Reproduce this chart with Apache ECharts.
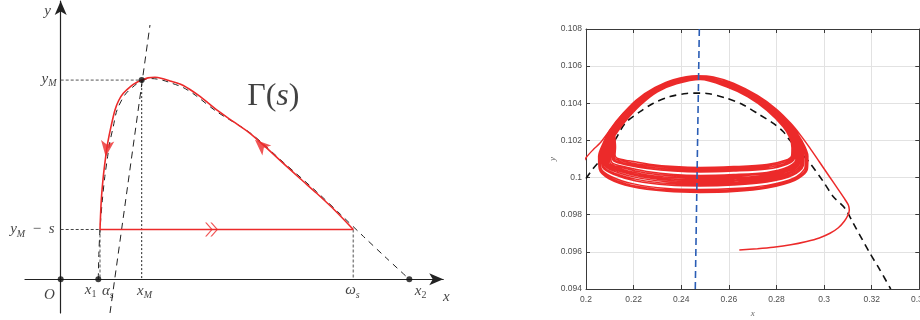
<!DOCTYPE html>
<html><head><meta charset="utf-8">
<script src="https://cdn.jsdelivr.net/npm/echarts@6/dist/echarts.min.js"></script>
<style>html,body{margin:0;padding:0;background:#fff}#c{width:920px;height:320px}</style>
</head><body><div id="c"></div>
<script>
// ---------- LEFT PANEL (schematic, abstract data units) ----------
const gammaArc = [[8.36,1.0],[7.837,1.382],[7.314,1.727],[6.837,2.024],[6.36,2.329],[5.866,2.647],[5.409,2.932],[4.923,3.169],[4.457,3.40],[4.209,3.54],[3.98,3.671],[3.694,3.811],[3.503,3.892],[3.323,3.942],[3.123,3.982],[2.894,4.032],[2.694,4.056],[2.494,4.044],[2.314,4.0],[2.166,3.952],[2.009,3.881],[1.789,3.735],[1.657,3.59],[1.551,3.4],[1.437,3.064],[1.343,2.737],[1.286,2.462],[1.217,2.06],[1.16,1.59],[1.123,1.0]];
const gammaBase = [[1.123,1.0],[8.36,1.0]];
const preyIsocline = [[1.074,0],[1.09,0.5],[1.123,1.0],[1.19,1.59],[1.26,2.06],[1.34,2.46],[1.40,2.74],[1.50,3.06],[1.61,3.4],[1.83,3.70],[2.06,3.86],[2.314,3.99],[2.6,4.03],[2.9,4.0],[3.2,3.93],[3.5,3.85],[3.84,3.70],[4.45,3.37],[5.41,2.94],[6.36,2.35],[7.31,1.76],[8.0,1.30],[8.65,0.86],[9.3,0.43],[9.96,0]];
const predIsocline = [[1.409,-0.677],[2.551,5.106]];
const guideYM = [[0,4],[2.314,4]];
const guideXM = [[2.314,4],[2.314,0]];
const guideYMs = [[0,1],[1.123,1]];
const guideX1 = [[1.123,1],[1.123,0]];
const guideOmega = [[8.36,1],[8.36,0]];
const keyPoints = [[0,0],[1.074,0],[9.96,0],[2.314,4]];
const flowArrows = [[1.286,2.462,173],[5.55,2.80,48]];
const chevronAt = [[4.31,1.0]];
const mathLabels = [
  ['{v|y}', -0.363, 5.367, 'center'],
  ['{v|y}{s|M}', -0.106, 4.02, 'right'],
  ['{v|y}{s|M}{n|  −  }{v|s}', -0.163, 1.0, 'right'],
  ['{v|x}{d|1}', 0.87, -0.22, 'center'],
  ['{v|α}{s|s}', 1.36, -0.24, 'center'],
  ['{v|x}{s|M}', 2.41, -0.24, 'center'],
  ['{v|ω}{s|s}', 8.35, -0.23, 'center'],
  ['{v|x}{d|2}', 10.3, -0.24, 'center'],
  ['{v|x}', 11.03, -0.36, 'center'],
  ['{v|O}', -0.306, -0.32, 'center'],
  ['{g|Γ(}{gi|s}{g|)}', 6.09, 3.66, 'center']
];

// ---------- RIGHT PANEL (phase plane) ----------
const nullclineRight = [[0.2000,0.09995],[0.2031,0.10050],[0.2073,0.10112],[0.2122,0.10202],[0.2164,0.10292],[0.2227,0.10355],[0.2283,0.10400],[0.2353,0.10436],[0.2423,0.10453],[0.2465,0.10455],[0.2507,0.10453],[0.2591,0.10427],[0.2661,0.10391],[0.2731,0.10337],[0.2787,0.10292],[0.2829,0.10247],[0.2850,0.10211],[0.2895,0.10145],[0.2941,0.10077],[0.2997,0.09978],[0.3039,0.09897],[0.3088,0.09834],[0.3123,0.09753],[0.3193,0.09592],[0.3235,0.09502],[0.3280,0.09400]];
const verticalNullcline = [[0.2476,0.108],[0.2459,0.094]];
const entryLeft = [[0.1985,0.10075],[0.2003,0.10112],[0.2030,0.10150],[0.2059,0.10186],[0.2101,0.10256],[0.2157,0.10347],[0.2227,0.10428]];
const transient = [[0.2644,0.09610],[0.2720,0.09617],[0.2787,0.09625],[0.2860,0.09638],[0.2927,0.09656],[0.2980,0.09675],[0.3025,0.09700],[0.3060,0.09730],[0.3085,0.09765],[0.3100,0.09797],[0.3106,0.09826],[0.3102,0.09852],[0.3088,0.09882],[0.3060,0.09935],[0.3020,0.10010],[0.2980,0.10085],[0.2940,0.10160],[0.2900,0.10230],[0.2860,0.10292],[0.2800,0.10368],[0.2720,0.10442],[0.2619,0.10508],[0.2535,0.10542],[0.2465,0.10548],[0.2367,0.10527],[0.2297,0.10488],[0.2227,0.10429],[0.2157,0.10348],[0.2101,0.10258]];
const loop1 = [[0.2072,0.10185],[0.2053,0.10115],[0.2056,0.10045],[0.2095,0.09995],[0.2190,0.09952],[0.2340,0.09926],[0.2480,0.09920],[0.2620,0.09925],[0.2760,0.09944],[0.2878,0.09985],[0.2930,0.10045],[0.2932,0.10115],[0.2906,0.10200],[0.2860,0.10283],[0.2780,0.10383],[0.2690,0.10459],[0.2590,0.10513],[0.2480,0.10546],[0.2380,0.10529],[0.2290,0.10486],[0.2210,0.10416],[0.2140,0.10321],[0.2100,0.10250]];
const loop2 = [[0.2074,0.10182],[0.2056,0.10112],[0.2059,0.10048],[0.2100,0.10000],[0.2195,0.09958],[0.2340,0.09933],[0.2480,0.09928],[0.2620,0.09933],[0.2760,0.09951],[0.2875,0.09991],[0.2925,0.10050],[0.2927,0.10118],[0.2902,0.10202],[0.2857,0.10283],[0.2778,0.10381],[0.2690,0.10456],[0.2590,0.10510],[0.2480,0.10544],[0.2380,0.10526],[0.2290,0.10483],[0.2210,0.10413],[0.2142,0.10318],[0.2102,0.10248]];
const loop3 = [[0.2076,0.10180],[0.2059,0.10110],[0.2063,0.10050],[0.2105,0.10006],[0.2200,0.09966],[0.2340,0.09941],[0.2480,0.09936],[0.2620,0.09941],[0.2760,0.09958],[0.2872,0.09997],[0.2920,0.10055],[0.2922,0.10120],[0.2898,0.10204],[0.2854,0.10282],[0.2776,0.10379],[0.2690,0.10453],[0.2590,0.10507],[0.2480,0.10542],[0.2380,0.10523],[0.2290,0.10480],[0.2212,0.10410],[0.2144,0.10316],[0.2104,0.10246]];
const loop4 = [[0.2080,0.10178],[0.2065,0.10108],[0.2070,0.10055],[0.2115,0.10018],[0.2210,0.09982],[0.2345,0.09960],[0.2480,0.09955],[0.2620,0.09960],[0.2760,0.09976],[0.2868,0.10012],[0.2913,0.10065],[0.2915,0.10125],[0.2893,0.10206],[0.2851,0.10281],[0.2774,0.10377],[0.2688,0.10451],[0.2590,0.10505],[0.2480,0.10541],[0.2380,0.10521],[0.2292,0.10478],[0.2214,0.10408],[0.2146,0.10314],[0.2106,0.10244]];
const loop5 = [[0.2085,0.10176],[0.2070,0.10106],[0.2075,0.10056],[0.2122,0.10022],[0.2218,0.09989],[0.2350,0.09968],[0.2480,0.09963],[0.2620,0.09968],[0.2760,0.09983],[0.2864,0.10018],[0.2908,0.10068],[0.2910,0.10127],[0.2889,0.10207],[0.2849,0.10280],[0.2772,0.10376],[0.2687,0.10450],[0.2590,0.10504],[0.2480,0.10539],[0.2380,0.10520],[0.2292,0.10477],[0.2215,0.10407],[0.2147,0.10313],[0.2107,0.10243]];
const loop6 = [[0.2088,0.10175],[0.2075,0.10105],[0.2081,0.10060],[0.2130,0.10029],[0.2225,0.09997],[0.2352,0.09976],[0.2480,0.09971],[0.2620,0.09976],[0.2760,0.09991],[0.2861,0.10025],[0.2903,0.10073],[0.2905,0.10130],[0.2885,0.10208],[0.2847,0.10279],[0.2771,0.10374],[0.2686,0.10448],[0.2590,0.10502],[0.2480,0.10538],[0.2380,0.10518],[0.2293,0.10475],[0.2217,0.10405],[0.2149,0.10311],[0.2109,0.10241]];
const loop7 = [[0.2092,0.10174],[0.2080,0.10104],[0.2087,0.10063],[0.2137,0.10035],[0.2232,0.10004],[0.2356,0.09984],[0.2480,0.09979],[0.2620,0.09984],[0.2760,0.09998],[0.2858,0.10032],[0.2898,0.10078],[0.2900,0.10133],[0.2881,0.10209],[0.2844,0.10279],[0.2769,0.10373],[0.2685,0.10446],[0.2590,0.10500],[0.2480,0.10537],[0.2380,0.10516],[0.2294,0.10473],[0.2219,0.10403],[0.2151,0.10309],[0.2111,0.10239]];
const loop8 = [[0.2097,0.10173],[0.2086,0.10103],[0.2093,0.10066],[0.2143,0.10040],[0.2238,0.10010],[0.2360,0.09992],[0.2480,0.09987],[0.2620,0.09992],[0.2760,0.10006],[0.2855,0.10039],[0.2893,0.10082],[0.2895,0.10136],[0.2877,0.10210],[0.2841,0.10278],[0.2767,0.10371],[0.2684,0.10444],[0.2590,0.10498],[0.2480,0.10535],[0.2380,0.10514],[0.2295,0.10471],[0.2221,0.10401],[0.2153,0.10307],[0.2113,0.10237]];
const loop9 = [[0.2101,0.10172],[0.2092,0.10102],[0.2099,0.10069],[0.2150,0.10045],[0.2245,0.10017],[0.2363,0.10000],[0.2480,0.09995],[0.2620,0.10000],[0.2760,0.10013],[0.2852,0.10045],[0.2889,0.10086],[0.2891,0.10139],[0.2874,0.10211],[0.2839,0.10277],[0.2766,0.10369],[0.2683,0.10442],[0.2590,0.10496],[0.2480,0.10534],[0.2380,0.10512],[0.2296,0.10469],[0.2223,0.10399],[0.2155,0.10305],[0.2115,0.10235]];
const loop10 = [[0.2106,0.10171],[0.2098,0.10103],[0.2105,0.10073],[0.2157,0.10051],[0.2250,0.10025],[0.2366,0.10008],[0.2480,0.10003],[0.2620,0.10008],[0.2760,0.10020],[0.2850,0.10051],[0.2885,0.10090],[0.2887,0.10142],[0.2871,0.10212],[0.2836,0.10276],[0.2765,0.10367],[0.2683,0.10440],[0.2590,0.10494],[0.2480,0.10533],[0.2380,0.10510],[0.2297,0.10467],[0.2225,0.10397],[0.2157,0.10303],[0.2117,0.10233]];
const loop11 = [[0.2110,0.10170],[0.2104,0.10105],[0.2111,0.10078],[0.2162,0.10058],[0.2255,0.10033],[0.2368,0.10016],[0.2480,0.10011],[0.2620,0.10016],[0.2760,0.10028],[0.2848,0.10057],[0.2881,0.10094],[0.2883,0.10145],[0.2868,0.10213],[0.2834,0.10276],[0.2764,0.10366],[0.2682,0.10439],[0.2590,0.10493],[0.2480,0.10532],[0.2380,0.10509],[0.2298,0.10466],[0.2226,0.10396],[0.2158,0.10302],[0.2118,0.10232]];
const loop12 = [[0.2115,0.10168],[0.2110,0.10112],[0.2117,0.10088],[0.2166,0.10069],[0.2257,0.10049],[0.2368,0.10035],[0.2480,0.10030],[0.2620,0.10035],[0.2760,0.10046],[0.2845,0.10072],[0.2876,0.10104],[0.2878,0.10150],[0.2865,0.10214],[0.2832,0.10275],[0.2763,0.10365],[0.2682,0.10438],[0.2590,0.10492],[0.2480,0.10531],[0.2380,0.10508],[0.2298,0.10465],[0.2227,0.10395],[0.2159,0.10301],[0.2119,0.10231]];
const loop13 = [[0.2118,0.10167],[0.2114,0.10115],[0.2121,0.10093],[0.2170,0.10076],[0.2259,0.10057],[0.2369,0.10043],[0.2480,0.10038],[0.2620,0.10043],[0.2760,0.10054],[0.2843,0.10079],[0.2872,0.10109],[0.2873,0.10153],[0.2862,0.10214],[0.2830,0.10275],[0.2762,0.10364],[0.2681,0.10437],[0.2590,0.10491],[0.2480,0.10530],[0.2380,0.10507],[0.2299,0.10464],[0.2228,0.10394],[0.2160,0.10300],[0.2120,0.10230]];
const loop14 = [[0.2121,0.10166],[0.2118,0.10118],[0.2126,0.10098],[0.2175,0.10083],[0.2262,0.10065],[0.2370,0.10051],[0.2480,0.10046],[0.2620,0.10051],[0.2760,0.10062],[0.2841,0.10086],[0.2868,0.10114],[0.2869,0.10156],[0.2859,0.10215],[0.2829,0.10274],[0.2761,0.10363],[0.2681,0.10436],[0.2590,0.10490],[0.2480,0.10529],[0.2380,0.10506],[0.2299,0.10463],[0.2229,0.10393],[0.2161,0.10299],[0.2121,0.10229]];
const loop15 = [[0.2124,0.10164],[0.2122,0.10121],[0.2131,0.10104],[0.2180,0.10090],[0.2265,0.10072],[0.2371,0.10059],[0.2480,0.10054],[0.2620,0.10059],[0.2760,0.10070],[0.2838,0.10093],[0.2864,0.10120],[0.2865,0.10160],[0.2856,0.10215],[0.2828,0.10274],[0.2760,0.10362],[0.2680,0.10435],[0.2590,0.10489],[0.2480,0.10528],[0.2380,0.10505],[0.2300,0.10462],[0.2230,0.10392],[0.2162,0.10298],[0.2122,0.10228]];
const xTickRange = [0.2, 0.34, 0.02];
const yTickRange = [0.094, 0.108, 0.002];

// ---------- build ----------
const trajectory = transient.concat(loop1, loop2, loop3, loop4, loop5, loop6, loop7, loop8, loop9, loop10, loop11, loop12, loop13, loop14, loop15);
const serif = 'Liberation Serif';
const ink = '#111';
const red = '#ec2a2a';
const mathRich = {
  v: {fontFamily: serif, fontStyle: 'italic', fontSize: 15, color: ink, lineHeight: 20},
  s: {fontFamily: serif, fontStyle: 'italic', fontSize: 10, color: ink, lineHeight: 13, verticalAlign: 'bottom'},
  d: {fontFamily: serif, fontSize: 10, color: ink, lineHeight: 13, verticalAlign: 'bottom'},
  n: {fontFamily: serif, fontSize: 15, color: ink, lineHeight: 20},
  g: {fontFamily: serif, fontSize: 32, color: ink, lineHeight: 36},
  gi: {fontFamily: serif, fontStyle: 'italic', fontSize: 32, color: ink, lineHeight: 36}
};
function seg(data, color, width, type, z) {
  return {type: 'line', xAxisIndex: 0, yAxisIndex: 0, data: data, showSymbol: false, symbol: 'none', silent: true, z: z || 2,
    lineStyle: {color: color, width: width, type: type}};
}
const hiddenAxis = {show: true, axisTick: {show: false}, axisLabel: {show: false}, splitLine: {show: false}};
const frameColor = '#3a3a3a';

const option = {
  animation: false,
  backgroundColor: '#fff',
  grid: [
    {left: 25, top: 1, width: 418.25, height: 312, outerBoundsMode: 'none', containLabel: false},
    {left: 586, top: 29, width: 333.3, height: 260, outerBoundsMode: 'none', containLabel: false}
  ],
  xAxis: [
    Object.assign({}, hiddenAxis, {gridIndex: 0, type: 'value', min: -1.02, max: 10.93,
      axisLine: {show: true, onZero: true, symbol: ['none', 'arrow'], symbolSize: [9, 14], lineStyle: {color: '#222', width: 1.2}}}),
    {gridIndex: 1, type: 'value', min: xTickRange[0], max: xTickRange[1], interval: xTickRange[2],
      axisLine: {show: true, onZero: false, lineStyle: {color: frameColor, width: 1}},
      axisTick: {show: true, inside: true, length: 4, lineStyle: {color: frameColor}},
      axisLabel: {show: true, fontSize: 8.5, color: '#4d4d4d', fontFamily: 'Liberation Sans', margin: 6, hideOverlap: false},
      splitLine: {show: true, lineStyle: {color: '#e2e2e2', width: 1}},
      name: 'x', nameLocation: 'middle', nameGap: 19,
      nameTextStyle: {fontFamily: serif, fontStyle: 'italic', fontSize: 9, color: '#666'}},
    {gridIndex: 1, type: 'value', position: 'top', min: xTickRange[0], max: xTickRange[1], interval: xTickRange[2],
      axisLine: {show: true, onZero: false, lineStyle: {color: frameColor, width: 1}},
      axisTick: {show: true, inside: true, length: 4, lineStyle: {color: frameColor}},
      axisLabel: {show: false}, splitLine: {show: false}}
  ],
  yAxis: [
    Object.assign({}, hiddenAxis, {gridIndex: 0, type: 'value', min: -0.677, max: 5.588,
      axisLine: {show: true, onZero: true, symbol: ['none', 'arrow'], symbolSize: [9, 14], lineStyle: {color: '#222', width: 1.2}}}),
    {gridIndex: 1, type: 'value', min: yTickRange[0], max: yTickRange[1], interval: yTickRange[2],
      axisLine: {show: true, onZero: false, lineStyle: {color: frameColor, width: 1}},
      axisTick: {show: true, inside: true, length: 4, lineStyle: {color: frameColor}},
      axisLabel: {show: true, fontSize: 8.5, color: '#4d4d4d', fontFamily: 'Liberation Sans', margin: 4, hideOverlap: false},
      splitLine: {show: true, lineStyle: {color: '#e2e2e2', width: 1}},
      name: 'y', nameLocation: 'middle', nameGap: 29, nameRotate: 90,
      nameTextStyle: {fontFamily: serif, fontStyle: 'italic', fontSize: 9, color: '#666'}},
    {gridIndex: 1, type: 'value', position: 'right', min: yTickRange[0], max: yTickRange[1], interval: yTickRange[2],
      axisLine: {show: true, onZero: false, lineStyle: {color: frameColor, width: 1}},
      axisTick: {show: true, inside: true, length: 4, lineStyle: {color: frameColor}},
      axisLabel: {show: false}, splitLine: {show: false}}
  ],
  series: [
    seg(guideYM, '#555', 1, [3, 2], 1),
    seg(guideXM, '#222', 1, [2, 2], 1),
    seg(guideYMs, '#444', 1, [3, 2], 1),
    seg(guideX1, '#555', 1, [3, 2], 1),
    seg(guideOmega, '#888', 1.5, [3, 2], 1),
    seg(predIsocline, '#222', 1, [7, 5], 2),
    Object.assign(seg(preyIsocline, '#222', 1, [6, 5], 2), {smooth: 0.3}),
    Object.assign(seg(gammaArc, red, 1.6, 'solid', 4), {smooth: 0.3}),
    seg(gammaBase, red, 1.6, 'solid', 4),
    {type: 'scatter', xAxisIndex: 0, yAxisIndex: 0, data: keyPoints, symbol: 'circle', symbolSize: 6,
      itemStyle: {color: '#111'}, z: 5, silent: true},
    {type: 'scatter', xAxisIndex: 0, yAxisIndex: 0, symbol: 'arrow', symbolSize: [10, 16], z: 6, silent: true,
      itemStyle: {color: red},
      data: flowArrows.map(a => ({value: [a[0], a[1]], symbolRotate: a[2]}))},
    {type: 'scatter', xAxisIndex: 0, yAxisIndex: 0, z: 6, silent: true,
      symbol: 'path://M0,0 L1.6,0 L8,7 L1.6,14 L0,14 L6.4,7 Z M5.5,0 L7.1,0 L13.5,7 L7.1,14 L5.5,14 L11.9,7 Z',
      symbolSize: [13, 14], itemStyle: {color: red}, data: chevronAt},
    {type: 'scatter', xAxisIndex: 0, yAxisIndex: 0, z: 7, silent: true, clip: false,
      symbol: 'circle', symbolSize: 1, itemStyle: {color: 'rgba(0,0,0,0)'},
      label: {show: true, position: [0, 0], formatter: p => p.data.text, rich: mathRich},
      data: mathLabels.map(l => ({value: [l[1], l[2]], text: l[0], label: {align: l[3], verticalAlign: 'middle'}}))},
    {type: 'line', xAxisIndex: 1, yAxisIndex: 1, data: nullclineRight, showSymbol: false, symbol: 'none', smooth: 0.3, z: 2, silent: true,
      lineStyle: {color: '#111', width: 1.6, type: [7, 5]}},
    {type: 'line', xAxisIndex: 1, yAxisIndex: 1, data: entryLeft, showSymbol: false, symbol: 'none', smooth: 0.3, z: 3, silent: true,
      lineStyle: {color: red, width: 1.4}},
    {type: 'line', xAxisIndex: 1, yAxisIndex: 1, data: trajectory, showSymbol: false, symbol: 'none', smooth: 0.3, z: 3, silent: true,
      lineStyle: {color: red, width: 1.5}},
    {type: 'line', xAxisIndex: 1, yAxisIndex: 1, data: verticalNullcline, showSymbol: false, symbol: 'none', z: 4, silent: true,
      lineStyle: {color: '#2a5db5', width: 1.6, type: [7, 4]}}
  ]
};
const chart = echarts.init(document.getElementById('c'), null, {renderer: 'canvas'});
chart.setOption(option);
</script></body></html>
